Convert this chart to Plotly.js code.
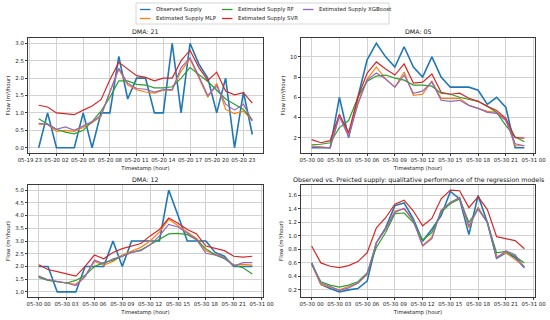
<!DOCTYPE html>
<html>
<head>
<meta charset="utf-8">
<script src="https://cdn.plot.ly/plotly-3.0.1.min.js"></script>
<style>html,body{margin:0;padding:0;background:#fff;}#chart{width:550px;height:320px;}</style>
</head>
<body>
<div id="chart"></div>
<script>
// ---- series names and colours ----
const seriesNames = ['Observed Supply', 'Estimated Supply MLP', 'Estimated Supply RF', 'Estimated Supply SVR', 'Estimated Supply XGBoost'];
const seriesColors = ['#1f77b4', '#ff7f0e', '#2ca02c', '#d62728', '#9467bd'];

// ---- panel titles ----
const panelTitles = ['DMA: 21', 'DMA: 05', 'DMA: 12', 'Observed vs. Preicted supply: qualitative performance of the regression models'];

// ---- y tick steps per panel ----
const yTickSteps = [0.5, 2, 0.5, 0.2];

// ---- timestamps ----
const hoursMay20 = ['2020-05-20 00:00','2020-05-20 01:00','2020-05-20 02:00','2020-05-20 03:00','2020-05-20 04:00','2020-05-20 05:00','2020-05-20 06:00','2020-05-20 07:00','2020-05-20 08:00','2020-05-20 09:00','2020-05-20 10:00','2020-05-20 11:00','2020-05-20 12:00','2020-05-20 13:00','2020-05-20 14:00','2020-05-20 15:00','2020-05-20 16:00','2020-05-20 17:00','2020-05-20 18:00','2020-05-20 19:00','2020-05-20 20:00','2020-05-20 21:00','2020-05-20 22:00','2020-05-20 23:00','2020-05-21 00:00'];
const hoursMay30 = ['2020-05-30 00:00','2020-05-30 01:00','2020-05-30 02:00','2020-05-30 03:00','2020-05-30 04:00','2020-05-30 05:00','2020-05-30 06:00','2020-05-30 07:00','2020-05-30 08:00','2020-05-30 09:00','2020-05-30 10:00','2020-05-30 11:00','2020-05-30 12:00','2020-05-30 13:00','2020-05-30 14:00','2020-05-30 15:00','2020-05-30 16:00','2020-05-30 17:00','2020-05-30 18:00','2020-05-30 19:00','2020-05-30 20:00','2020-05-30 21:00','2020-05-30 22:00','2020-05-30 23:00'];

// ---- DMA: 21 ----
const dma21Observed = [0, 1, 0, 0, 0, 1, 0, 1, 1, 2.62, 1.4, 2, 2, 1, 1, 3, 1, 3, 2.4, 2, 1, 2, 0, 1.6, 0.38];
const dma21MLP = [0.68, 0.67, 0.47, 0.5, 0.47, 0.58, 0.72, 0.9, 1.6, 2.25, 1.8, 1.67, 1.6, 1.57, 1.65, 1.65, 2.2, 2.55, 2.0, 1.45, 1.85, 1.1, 0.98, 1.05, 0.78];
const dma21RF = [0.83, 0.68, 0.53, 0.45, 0.4, 0.5, 0.75, 1.05, 1.45, 1.92, 1.92, 1.82, 1.8, 1.72, 1.72, 1.75, 2.0, 2.3, 2.1, 1.9, 1.65, 1.4, 1.25, 1.1, 0.8];
const dma21SVR = [1.22, 1.17, 1.0, 0.98, 0.95, 1.08, 1.2, 1.38, 1.95, 2.45, 2.25, 2.07, 2.02, 1.92, 2.0, 2.0, 2.5, 2.8, 2.3, 1.93, 2.17, 1.63, 1.52, 1.58, 1.28];
const dma21XGB = [0.7, 0.67, 0.53, 0.6, 0.5, 0.62, 0.75, 0.93, 1.6, 2.28, 1.85, 1.7, 1.68, 1.6, 1.67, 1.67, 2.3, 2.58, 2.05, 1.5, 1.78, 1.25, 1.08, 1.25, 0.77];

// ---- DMA: 05 ----
const dma05Observed = [1.0, 1.0, 1.0, 6.0, 2.0, 6.0, 9.7, 11.35, 10.0, 9.0, 11.0, 9.0, 8.0, 10.0, 8.0, 7.0, 7.0, 7.0, 6.7, 5.3, 6.0, 5.0, 1.0, 1.0];
const dma05MLP = [1.2, 1.1, 1.0, 4.3, 2.3, 5.5, 7.8, 9.0, 7.8, 7.0, 8.5, 6.2, 6.3, 7.6, 5.9, 5.9, 5.9, 5.2, 4.9, 4.6, 4.5, 3.8, 1.2, 1.2];
const dma05RF = [1.3, 1.35, 1.5, 3.0, 3.7, 6.0, 7.6, 8.1, 8.2, 7.9, 7.7, 7.2, 7.2, 7.1, 6.4, 6.3, 6.0, 5.8, 5.6, 5.1, 4.5, 3.2, 2.1, 1.6];
const dma05SVR = [1.8, 1.5, 1.7, 4.3, 2.5, 6.0, 8.4, 9.5, 8.8, 8.2, 9.3, 7.4, 7.5, 8.3, 6.5, 6.3, 6.4, 5.9, 5.6, 5.1, 4.7, 3.9, 2.0, 1.95];
const dma05XGB = [1.1, 1.05, 1.0, 4.1, 2.1, 5.3, 7.7, 8.4, 7.8, 7.0, 8.2, 6.4, 6.6, 7.5, 5.7, 5.6, 5.7, 5.2, 4.9, 4.5, 4.4, 3.7, 1.4, 1.2];

// ---- DMA: 12 ----
const dma12Observed = [2, 2, 1, 1, 1, 2, 2, 2, 3, 2, 3, 3, 3, 3, 5, 4, 3, 3, 3, 2.55, 2.4, 2, 2, 2];
const dma12MLP = [1.62, 1.47, 1.4, 1.35, 1.3, 1.62, 2.2, 2.05, 2.2, 2.45, 2.6, 2.75, 3.0, 3.35, 3.85, 3.6, 3.35, 3.1, 2.62, 2.5, 2.35, 2.05, 2.08, 2.05];
const dma12RF = [1.57, 1.45, 1.4, 1.35, 1.45, 1.65, 2.0, 2.15, 2.25, 2.4, 2.55, 2.65, 2.85, 3.05, 3.28, 3.3, 3.25, 3.05, 2.7, 2.45, 2.3, 2.05, 1.95, 1.7];
const dma12SVR = [2.07, 1.88, 1.8, 1.72, 1.62, 2.0, 2.45, 2.3, 2.55, 2.7, 2.8, 2.9, 3.2, 3.45, 3.9, 3.7, 3.45, 3.28, 2.8, 2.72, 2.62, 2.4, 2.37, 2.4];
const dma12XGB = [1.62, 1.48, 1.42, 1.35, 1.25, 1.6, 2.25, 2.1, 2.3, 2.4, 2.55, 2.62, 2.85, 3.2, 3.65, 3.55, 3.3, 3.05, 2.52, 2.45, 2.35, 2.02, 2.15, 2.15];

// ---- Observed vs. predicted ----
const allObserved = [0.6, 0.28, 0.22, 0.17, 0.2, 0.22, 0.33, 0.9, 1.12, 1.45, 1.49, 1.25, 0.92, 1.1, 1.3, 1.66, 1.55, 1.02, 1.6, 1.2, 0.67, 0.75, 0.68, 0.53];
const allMLP = [0.58, 0.28, 0.24, 0.2, 0.25, 0.3, 0.43, 0.9, 1.1, 1.37, 1.4, 1.22, 0.86, 0.98, 1.38, 1.48, 1.57, 1.12, 1.43, 1.2, 0.69, 0.75, 0.65, 0.55];
const allRF = [0.58, 0.32, 0.27, 0.24, 0.27, 0.32, 0.45, 0.83, 1.05, 1.33, 1.34, 1.2, 0.94, 1.05, 1.35, 1.48, 1.55, 1.2, 1.4, 1.2, 0.75, 0.77, 0.7, 0.6];
const allSVR = [0.85, 0.6, 0.55, 0.53, 0.56, 0.62, 0.75, 1.12, 1.27, 1.47, 1.53, 1.37, 1.15, 1.26, 1.55, 1.68, 1.67, 1.42, 1.58, 1.39, 0.99, 0.96, 0.93, 0.81];
const allXGB = [0.6, 0.3, 0.25, 0.19, 0.23, 0.3, 0.44, 0.9, 1.1, 1.35, 1.41, 1.23, 0.85, 0.96, 1.38, 1.5, 1.57, 1.15, 1.4, 1.2, 0.67, 0.78, 0.72, 0.53];

// ---------------------------------------------------------------
const W = 550, H = 320;
const FONT = 'DejaVu Sans, Liberation Sans, sans-serif';
const px = x => x / W;
const py = y => 1 - y / H;

const panels = [
  {x: hoursMay20, series: [dma21Observed, dma21MLP, dma21RF, dma21SVR, dma21XGB], tick0: '2020-05-19 23:00'},
  {x: hoursMay30, series: [dma05Observed, dma05MLP, dma05RF, dma05SVR, dma05XGB], tick0: '2020-05-30 00:00'},
  {x: hoursMay30, series: [dma12Observed, dma12MLP, dma12RF, dma12SVR, dma12XGB], tick0: '2020-05-30 00:00'},
  {x: hoursMay30, series: [allObserved, allMLP, allRF, allSVR, allXGB], tick0: '2020-05-30 00:00'}
];
// pixel boxes of the plot areas [left, right, top, bottom]
const boxes = [[28, 263, 38, 153], [301, 535, 38, 153], [28, 263, 185, 297], [301, 535, 185, 297]];
const titleY = [32, 32, 179, 180];

const traces = [];
const layout = {
  width: W, height: H,
  margin: {l: 0, r: 0, t: 0, b: 0, pad: 0},
  paper_bgcolor: '#ffffff', plot_bgcolor: '#ffffff',
  font: {family: FONT, size: 5.4, color: '#222'},
  showlegend: false,
  annotations: [], shapes: []
};

function pad(lo, hi) { const d = (hi - lo) * 0.05; return [lo - d, hi + d]; }

panels.forEach((p, i) => {
  const k = i === 0 ? '' : String(i + 1);
  p.series.forEach((vals, s) => {
    traces.push({
      type: 'scatter', mode: 'lines', x: p.x, y: vals, name: seriesNames[s],
      xaxis: 'x' + k, yaxis: 'y' + k,
      line: {color: seriesColors[s], width: s === 0 ? 1.6 : 1.2},
      hoverinfo: 'x+y+name'
    });
  });
  const all = [].concat(...p.series);
  const yr = pad(Math.min(...all), Math.max(...all));
  const t0 = new Date(p.x[0].replace(' ', 'T') + ':00Z').getTime();
  const t1 = new Date(p.x[p.x.length - 1].replace(' ', 'T') + ':00Z').getTime();
  const xr = pad(t0, t1).map(v => new Date(v).toISOString().replace('T', ' ').slice(0, 19));
  const b = boxes[i];
  const common = {
    showline: true, mirror: true, linecolor: '#3a3a3a', linewidth: 1,
    showgrid: true, gridcolor: '#d2d2d2', gridwidth: 1, zeroline: false,
    ticks: 'outside', ticklen: 2, tickwidth: 1, tickcolor: '#3a3a3a',
    tickfont: {family: FONT, size: 5.4, color: '#222'}
  };
  layout['xaxis' + k] = Object.assign({}, common, {
    type: 'date', domain: [px(b[0]), px(b[1])], anchor: 'y' + k,
    range: xr, tick0: p.tick0, dtick: 3 * 3600 * 1000, tickformat: '%m-%d %H',
    title: {text: 'Timestamp (hour)', font: {family: FONT, size: 5.4, color: '#222'}, standoff: 3}
  });
  layout['yaxis' + k] = Object.assign({}, common, {
    domain: [py(b[3]), py(b[2])], anchor: 'x' + k, range: yr,
    tick0: 0, dtick: yTickSteps[i], tickformat: i === 1 ? 'd' : '.1f',
    title: {text: 'Flow (m³/hour)', font: {family: FONT, size: 5.4, color: '#222'}, standoff: 4}
  });
  layout.annotations.push({
    xref: 'paper', yref: 'paper', x: px((b[0] + b[1]) / 2), y: py(titleY[i]),
    xanchor: 'center', yanchor: 'middle', showarrow: false,
    text: panelTitles[i], font: {family: FONT, size: 6.3, color: '#111', weight: 'normal'}
  });
});

// ---- legend (matplotlib style, 3 columns) ----
const legCol = [140, 222, 303];
const legRow = [9.5, 18.5];
const legendOrder = [[0, 0], [1, 0], [0, 1], [1, 1], [0, 2]]; // [row, col] for each series
layout.shapes.push({type: 'rect', xref: 'paper', yref: 'paper', x0: px(136), x1: px(389), y0: py(3), y1: py(24),
  line: {color: '#cccccc', width: 0.8}, fillcolor: 'rgba(255,255,255,0.8)', layer: 'above'});
seriesNames.forEach((name, s) => {
  const [r, c] = legendOrder[s];
  const x0 = legCol[c], y = legRow[r];
  layout.shapes.push({type: 'line', xref: 'paper', yref: 'paper', x0: px(x0), x1: px(x0 + 10.5), y0: py(y), y1: py(y),
    line: {color: seriesColors[s], width: 1.3}, layer: 'above'});
  layout.annotations.push({xref: 'paper', yref: 'paper', x: px(x0 + 14), y: py(y), xanchor: 'left', yanchor: 'middle',
    showarrow: false, text: name, font: {family: FONT, size: 5.4, color: '#222'}});
});

Plotly.newPlot('chart', traces, layout, {displayModeBar: false, staticPlot: true});
</script>
</body>
</html>
